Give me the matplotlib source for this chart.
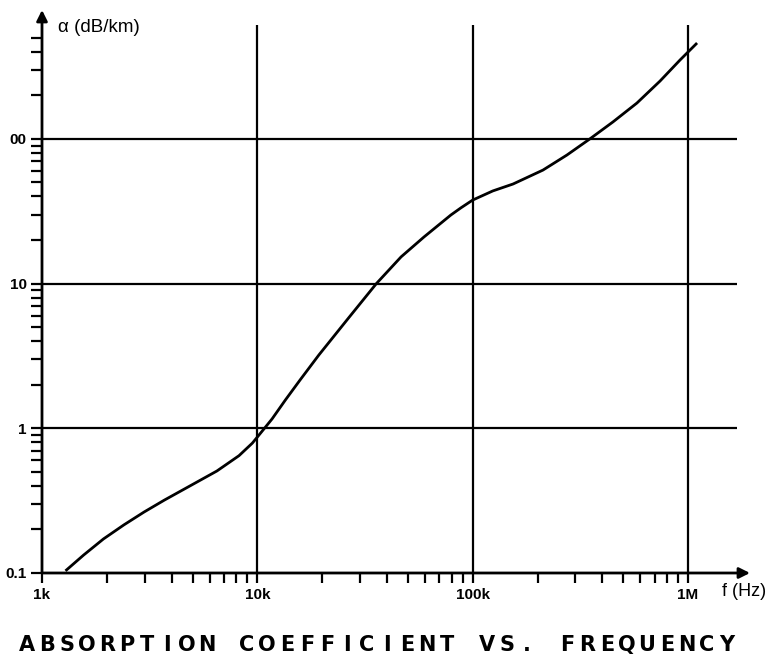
import numpy as np
import matplotlib.pyplot as plt

# absorption curve, frequency in Hz, alpha in dB/km
freq = [1.30e3, 1.56e3, 1.93e3, 2.40e3, 2.98e3, 3.70e3, 4.59e3, 6.49e3, 8.22e3,
        9.48e3, 1.0e4, 1.17e4, 1.35e4, 1.58e4, 1.93e4, 2.65e4, 3.57e4, 4.65e4,
        5.94e4, 7.92e4, 8.82e4, 1.0e5, 1.24e5, 1.54e5, 2.12e5, 2.74e5, 3.50e5,
        4.48e5, 5.79e5, 7.41e5, 9.18e5, 1.09e6]
alpha = [0.105, 0.133, 0.172, 0.215, 0.264, 0.319, 0.381, 0.507, 0.647,
         0.79, 0.87, 1.16, 1.57, 2.16, 3.21, 5.78, 10.0, 15.3,
         21.0, 29.8, 33.4, 37.8, 43.7, 48.8, 60.9, 77.4, 100,
         131, 177, 251, 351, 453]

xticks = [1e3, 1e4, 1e5, 1e6]
xlabels = ["1k", "10k", "100k", "1M"]
yticks = [0.1, 1, 10, 100]
ylabels = ["0.1", "1", "10", "00"]
title = "ABSORPTION COEFFICIENT VS. FREQUENCY"

fig = plt.figure(figsize=(7.69, 6.56), dpi=100)
ax = fig.add_axes([42 / 769, 83 / 656, 708 / 769, 563 / 656])
ax.set_xscale("log")
ax.set_yscale("log")
ax.set_xlim(1e3, 1.94e6)
ax.set_ylim(0.1, 778)

for s in ax.spines.values():
    s.set_visible(False)

# axes drawn as arrows
arr = dict(arrowstyle="-|>", lw=2, color="k", mutation_scale=16, shrinkA=0, shrinkB=0)
ax.annotate("", xy=(1, 0), xytext=(0, 0), xycoords="axes fraction", arrowprops=arr)
ax.annotate("", xy=(0, 1), xytext=(0, 0), xycoords="axes fraction", arrowprops=arr)

# grid
ax.vlines([1e4, 1e5, 1e6], 0.1, 612, color="k", lw=1.6)
ax.hlines([1, 10, 100], 1e3, 1.69e6, color="k", lw=1.6)

ax.plot(freq, alpha, color="k", lw=2.0, solid_joinstyle="round")

# ticks
ax.set_xticks(xticks)
ax.set_xticklabels(xlabels)
ax.set_xticks([k * 10.0 ** d for d in range(3, 6) for k in range(2, 10)], minor=True)
ax.set_yticks(yticks)
ax.set_yticklabels(ylabels)
ymin = [k * 10.0 ** d for d in range(-1, 2) for k in range(2, 10)] + [200, 300, 400, 500]
ax.set_yticks(ymin, minor=True)
ax.xaxis.set_minor_formatter(plt.NullFormatter())
ax.yaxis.set_minor_formatter(plt.NullFormatter())
ax.tick_params(which="both", direction="out", width=1.6, color="k")
ax.tick_params(axis="x", which="both", length=7, pad=4)
ax.tick_params(axis="y", which="both", length=8, pad=3)
for lab in ax.get_xticklabels() + ax.get_yticklabels():
    lab.set_fontsize(11)
    lab.set_fontweight("bold")
    lab.set_family("Liberation Sans")

ax.text(58 / 769, 1 - 27 / 656, "\u03b1 (dB/km)", transform=fig.transFigure,
        fontsize=13.5, family="Liberation Sans", va="center", ha="left")
ax.text(722 / 769, 1 - 592 / 656, "f (Hz)", transform=fig.transFigure,
        fontsize=13, family="Liberation Sans", va="center", ha="left")

# plotter-style caption, one character per fixed step
for i, ch in enumerate(title):
    fig.text((27 + i * 20.0) / 769, 1 - 645 / 656, ch, fontsize=15,
             fontweight="bold", family="DejaVu Sans", ha="center", va="center")

fig.savefig("out.png", dpi=100)
